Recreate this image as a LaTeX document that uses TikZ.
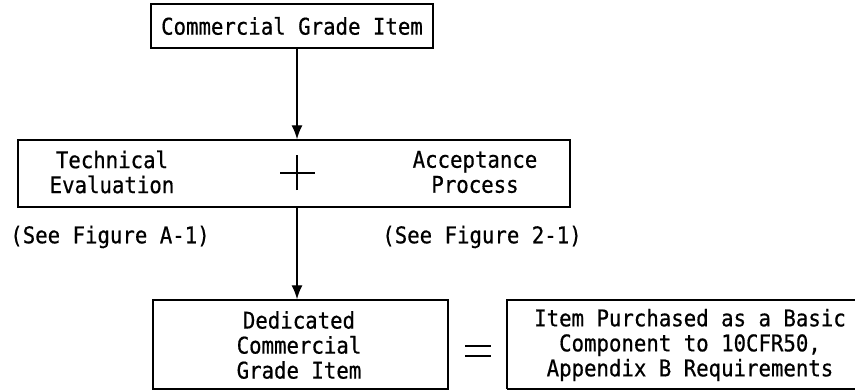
\documentclass[tikz,border=0pt]{standalone}
\usepackage{fontspec}
\setmonofont[FakeStretch=0.9,FakeBold=0.6]{DejaVu Sans Mono}
\usetikzlibrary{arrows.meta}
\tikzset{
	box/.style={draw, line width=1.5pt, minimum width=#1, inner sep=0pt},
	txt/.style={font=\ttfamily\fontsize{23}{25}\selectfont, align=center, inner sep=0pt},
	flow/.style={line width=1.4pt, -{Latex[length=14pt,width=11pt]}}
}

\begin{document}
\begin{tikzpicture}[x=1pt, y=-1pt]
	%%%%% START %%%%%
	\useasboundingbox (0,0) rectangle (855,391);

	% top item
	\node[box=282pt, minimum height=44pt, txt] (item) at (292,26) {Commercial Grade Item};

	% evaluation + acceptance
	\node[box=552pt, minimum height=67pt] (proc) at (294,173.5) {};
	\coordinate (plus) at (297,173);
	\node[txt] (tech) at (112,172) {Technical\\Evaluation};
	\node[txt] (acc) at (475,172) {Acceptance\\Process};
	\draw[line width=1.4pt] ([xshift=-17pt]plus) -- ([xshift=18pt]plus);
	\draw[line width=1.4pt] ([yshift=-17pt]plus) -- ([yshift=18pt]plus);

	\node[txt] (seeA) at (110,237) {(See Figure A-1)};
	\node[txt] (seeB) at (482,237) {(See Figure 2-1)};

	% result
	\node[box=295pt, minimum height=89pt] (ded) at (300.5,344.5) {};
	\node[txt] (dedtxt) at (299,345) {Dedicated\\Commercial\\Grade Item};
	\coordinate (eq) at (478,351);
	\draw[line width=1.4pt] ([xshift=-13pt,yshift=-5pt]eq) -- ([xshift=13pt,yshift=-5pt]eq);
	\draw[line width=1.4pt] ([xshift=-13pt,yshift=5pt]eq) -- ([xshift=13pt,yshift=5pt]eq);
	\draw[line width=1.5pt] (507,389) -- (507,300) -- (858,300);
	\draw[line width=1.5pt] (507,389) -- (858,389);
	\node[txt] (basic) at (690,345) {Item Purchased as a Basic\\Component to 10CFR50,\\Appendix B Requirements};

	% arrows
	\draw[flow] (item.south -| plus) -- (proc.north -| plus);
	\draw[flow] (proc.south -| plus) -- (ded.north -| plus);
	%%%%% END %%%%%
\end{tikzpicture}
\end{document}
